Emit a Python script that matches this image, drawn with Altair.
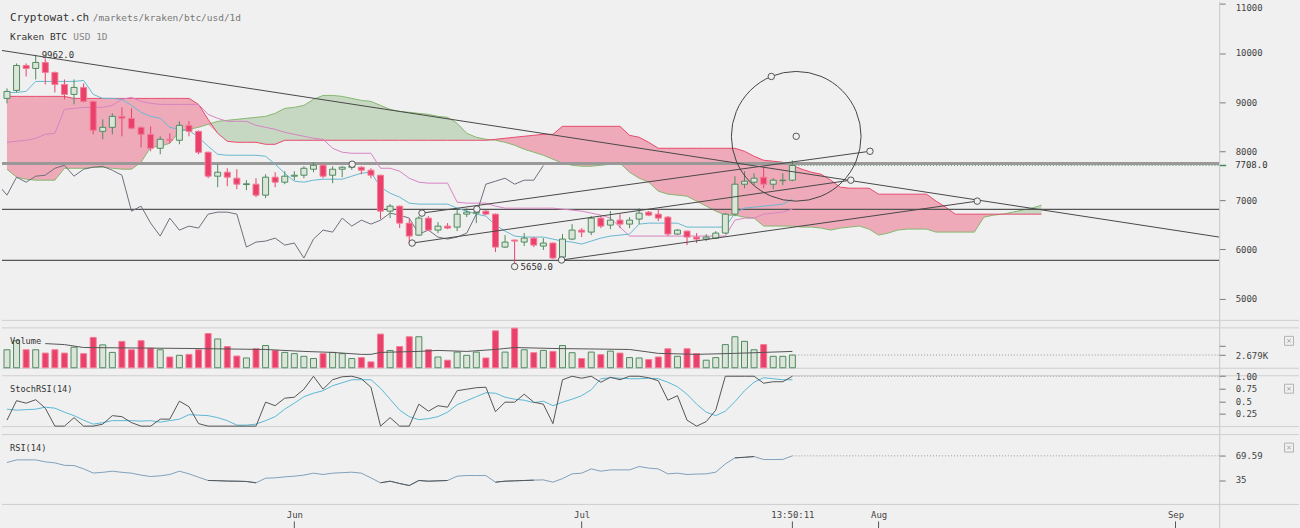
import altair as alt
import numpy as np
import pandas as pd

# ---------------- data (day index: 0 = 1 May 2018) ----------------
days = list(range(1, 84))
opens = [9075, 9238, 9746, 9685, 9807, 9604, 9360, 9157, 9299, 9014,
         8404, 8486, 8709, 8669, 8486, 8343, 8059, 8242, 8222, 8526,
         8404, 7978, 7490, 7571, 7449, 7320, 7327, 7104, 7470, 7368,
         7490, 7510, 7632, 7713, 7510, 7632, 7673, 7673, 7612, 7510,
         6778, 6880, 6534, 6290, 6636, 6392, 6473, 6453, 6717, 6738,
         6778, 6717, 6046, 6189, 6148, 6229, 6067, 6128, 5843, 6209,
         6392, 6351, 6636, 6494, 6595, 6514, 6616, 6758, 6717, 6656,
         6311, 6372, 6250, 6209, 6229, 6331, 6717, 7327, 7368, 7470,
         7327, 7400, 7409]
highs = [9278, 9787, 9787, 9962, 9888, 9620, 9461, 9461, 9380, 9030,
         8648, 8770, 8892, 8872, 8500, 8506, 8303, 8364, 8608, 8608,
         8420, 7990, 7734, 7652, 7632, 7409, 7449, 7530, 7571, 7591,
         7591, 7693, 7774, 7734, 7693, 7693, 7720, 7693, 7652, 7520,
         6921, 6890, 6616, 6677, 6677, 6555, 6534, 6819, 6839, 6839,
         6800, 6730, 6290, 6200, 6331, 6250, 6229, 6140, 6311, 6514,
         6433, 6677, 6677, 6778, 6717, 6656, 6839, 6778, 6819, 6677,
         6412, 6380, 6331, 6311, 6372, 6738, 7490, 7591, 7551, 7673,
         7449, 7551, 7810]
lows = [8974, 9197, 9522, 9461, 9360, 9197, 9055, 8953, 8994, 8343,
        8242, 8343, 8303, 8445, 8079, 7998, 7937, 8161, 8140, 8303,
        7937, 7449, 7266, 7287, 7226, 7205, 7063, 7043, 7266, 7327,
        7409, 7449, 7571, 7449, 7348, 7470, 7620, 7530, 7449, 6616,
        6636, 6433, 6128, 6270, 6372, 6331, 6412, 6372, 6656, 6534,
        6697, 5945, 6026, 5650, 6067, 6046, 5986, 5802, 5802, 6189,
        6250, 6290, 6433, 6412, 6433, 6433, 6514, 6677, 6575, 6270,
        6290, 6087, 6128, 6168, 6209, 6311, 6677, 7246, 7307, 7246,
        7226, 7307, 7388]
closes = [9217, 9746, 9685, 9807, 9604, 9360, 9157, 9299, 9014, 8425,
          8486, 8709, 8669, 8465, 8343, 8059, 8242, 8222, 8526, 8404,
          7978, 7490, 7571, 7470, 7327, 7335, 7104, 7470, 7368, 7490,
          7510, 7652, 7713, 7490, 7632, 7673, 7690, 7612, 7510, 6778,
          6880, 6534, 6270, 6636, 6392, 6473, 6433, 6717, 6758, 6758,
          6717, 6046, 6148, 6168, 6229, 6087, 6128, 5823, 6209, 6392,
          6351, 6636, 6473, 6595, 6514, 6595, 6738, 6697, 6636, 6311,
          6392, 6250, 6209, 6250, 6331, 6717, 7327, 7388, 7449, 7327,
          7409, 7409, 7708]
volumes = [3790, 5700, 3790, 3790, 3090, 3790, 3090, 4330, 2970, 6390,
           4820, 3230, 5560, 3790, 5700, 4120, 3790, 2270, 2620, 2820,
           3790, 7210, 6060, 4470, 2470, 2060, 4000, 4680, 3650, 3230,
           2970, 2410, 1940, 2970, 3230, 2970, 1940, 2140, 1240, 7090,
           3650, 4470, 6530, 6530, 3790, 2270, 1590, 3300, 2620, 3300,
           2060, 7770, 3300, 8320, 3790, 3170, 3650, 3440, 4680, 3170,
           1940, 3300, 2760, 3500, 3090, 2140, 2060, 1730, 2270, 4000,
           2410, 4000, 2970, 1590, 2140, 4880, 6530, 5560, 3790, 4880,
           2410, 2410, 2679]
tenkan = [9197, 9197, 9218, 9421, 9421, 9421, 9421, 9421, 9441, 9157,
          9075, 9075, 9055, 8933, 8791, 8709, 8669, 8486, 8445, 8425,
          8283, 8100, 7937, 7917, 7917, 7917, 7917, 7896, 7734, 7551,
          7388, 7368, 7409, 7429, 7429, 7429, 7490, 7551, 7571, 7266,
          7144, 7063, 6941, 6921, 6921, 6921, 6921, 6839, 6778, 6717,
          6677, 6494, 6372, 6270, 6250, 6250, 6250, 6209, 6168, 6148,
          6107, 6168, 6229, 6270, 6290, 6311, 6514, 6534, 6534, 6534,
          6534, 6453, 6453, 6453, 6453, 6453, 6738, 6839, 6860, 6880,
          6900, 6921, 7022]
kijun = [8181, 8201, 8222, 8262, 8343, 8364, 8852, 8872, 8892, 8892,
         8892, 8933, 9055, 9096, 9014, 8974, 8953, 8953, 8953, 8953,
         8953, 8750, 8669, 8608, 8608, 8608, 8526, 8486, 8445, 8384,
         8343, 8303, 8262, 8242, 8059, 7978, 7957, 7957, 7957, 7652,
         7652, 7591, 7449, 7368, 7348, 7348, 7348, 6961, 6941, 6941,
         6941, 6880, 6839, 6839, 6839, 6839, 6839, 6839, 6819, 6799,
         6778, 6738, 6697, 6636, 6453, 6270, 6270, 6270, 6270, 6270,
         6270, 6270, 6270, 6270, 6270, 6270, 6595, 6636, 6636, 6717,
         6738, 6758, 6819]
cloud_days = list(range(1, 110))
span_a = [7632, 7470, 7429, 7409, 7409, 7409, 7652, 7652, 7652, 7673,
          7673, 7652, 7632, 7632, 7774, 8079, 8100, 8161, 8404, 8445,
          8486, 8547, 8608, 8628, 8648, 8669, 8689, 8709, 8770, 8872,
          8892, 8933, 9055, 9136, 9136, 9116, 9075, 9035, 9014, 8933,
          8852, 8811, 8791, 8770, 8750, 8709, 8689, 8567, 8364, 8283,
          8242, 8222, 8181, 8120, 8039, 7978, 7917, 7835, 7754, 7713,
          7693, 7693, 7713, 7734, 7754, 7571, 7449, 7368, 7185, 7124,
          7104, 7083, 6982, 6880, 6778, 6697, 6697, 6656, 6636, 6474,
          6474, 6474, 6474, 6453, 6453, 6433, 6392, 6433, 6453, 6474,
          6412, 6290, 6331, 6392, 6412, 6412, 6412, 6351, 6351, 6351,
          6351, 6351, 6656, 6697, 6717, 6758, 6799, 6839, 6900]
span_b = ([9116] * 7 + [9075] * 13 + [8953, 8648, 8364, 8201] + [8181] * 3 +
          [8140] * 2 + [8222] * 22 + [8242, 8262, 8283, 8303, 8323, 8343, 8343] +
          [8506] * 7 + [8323, 8283, 8181] + [8059] * 9 +
          [7998, 7896, 7815, 7795, 7774, 7713, 7632, 7571, 7530, 7409, 7266] +
          [7246] * 3 + [7124] * 6 + [6982, 6860] + [6717] * 10)
stoch_k = [0.12, 0.51, 0.46, 0.53, 0.36, 0.0, 0.0, 0.17, 0.0, 0.0,
           0.04, 0.21, 0.19, 0.07, 0.0, 0.0, 0.14, 0.14, 0.50, 0.39,
           0.05, 0.0, 0.0, 0.0, 0.0, 0.0, 0.0, 0.48, 0.41, 0.56,
           0.58, 0.74, 1.0, 0.74, 0.93, 0.99, 1.0, 0.95, 0.78, 0.0,
           0.17, 0.0, 0.0, 0.44, 0.30, 0.41, 0.38, 0.71, 0.74, 0.77,
           0.78, 0.29, 0.48, 0.48, 0.64, 0.48, 0.44, 0.05, 0.93, 1.0,
           0.96, 1.0, 0.88, 0.98, 0.93, 1.0, 1.0, 0.97, 0.91, 0.52,
           0.61, 0.12, 0.0, 0.09, 0.32, 1.0, 1.0, 1.0, 1.0, 0.86,
           0.89, 0.89, 1.0]
stoch_d = [0.34, 0.32, 0.33, 0.34, 0.38, 0.36, 0.28, 0.21, 0.12, 0.04,
           0.07, 0.11, 0.11, 0.11, 0.10, 0.11, 0.08, 0.11, 0.14, 0.23,
           0.22, 0.21, 0.17, 0.11, 0.02, 0.02, 0.04, 0.11, 0.19, 0.34,
           0.46, 0.59, 0.66, 0.71, 0.81, 0.87, 0.93, 0.93, 0.93, 0.76,
           0.54, 0.32, 0.19, 0.13, 0.15, 0.19, 0.28, 0.43, 0.51, 0.59,
           0.67, 0.66, 0.58, 0.54, 0.52, 0.47, 0.50, 0.41, 0.48, 0.54,
           0.61, 0.73, 0.95, 0.97, 0.96, 0.95, 0.95, 0.96, 0.95, 0.88,
           0.79, 0.64, 0.44, 0.28, 0.21, 0.30, 0.49, 0.71, 0.88, 0.97,
           0.95, 0.93, 0.93]
rsi = [60, 63.8, 63.8, 63.8, 61, 59.5, 56, 55.7, 51, 45,
       46, 47.6, 46, 44.8, 42, 40, 41, 42.9, 47.6, 43.8,
       39, 34.3, 34, 33.5, 33.3, 32.9, 31, 37.6, 38.1, 39.5,
       40.5, 42, 44.8, 42.9, 44.8, 45.5, 46.2, 44.8, 38, 31,
       33.3, 30, 27.1, 34.3, 33.3, 33.8, 34.3, 40.5, 41.4, 41.4,
       41.4, 31.9, 33.3, 33.8, 34.3, 34.8, 35.2, 31.9, 37, 43.8,
       44.8, 50.9, 47.6, 49.5, 49.5, 49.5, 54.3, 52, 50.9, 43.8,
       44.8, 42.9, 43.5, 43.8, 46.2, 58, 66.7, 67.5, 68.6, 64.3,
       64.3, 64.5, 69.59]
vol_ma_days = [5, 7, 9, 20, 28, 32, 35, 38, 39, 40, 44, 46, 49, 52, 54, 58, 66, 69, 73, 77, 83]
vol_ma = [5090, 4880, 4260, 4060, 3850, 3440, 3230, 2820, 2820, 3230, 3440,
          3650, 3440, 3850, 4260, 4060, 3850, 3030, 2820, 3030, 3440]

# drawings (day, price)
level_grey = [7748]
levels_dark = [6813, 5776]
trend_d1 = [0.48, 43.3, 44.33, 58.9]
trend_p1 = [10051, 6128, 6738, 5783]
trend_d2 = [127.56, 89.1, 91.1, 102.3]
trend_p2 = [6250, 7409, 7998, 6982]
marker_days = [37.04, 43.3, 44.33, 50.06, 54, 58.9, 80.8, 83.4, 89.1, 91.1, 102.3]
marker_prices = [7734, 6128, 6738, 6819, 5650, 5783, 9522, 8303, 7409, 7998, 6982]
circle_center = (83.4, 8303)
extreme_days = [4, 54]
extreme_prices = [9962, 5650]
extreme_labels = ["9962.0", "5650.0"]
last_price, last_price_label = 7708, "7708.0"
last_vol_label = "2.679K"
last_rsi_label = "69.59"

price_ticks = [5000, 6000, 7000, 8000, 9000, 10000, 11000]
month_days = [31, 61, 92, 123]
month_names = ["Jun", "Jul", "Aug", "Sep"]
now_day, now_label = 83, "13:50:11"

# ---------------- styling ----------------
W = 1220
FONT = "DejaVu Sans Mono"
BG = "#f0f0f0"
RED = "#ea416b"
RED_EDGE = "#f27c98"
GREEN_EDGE = "#4f8b5e"
GREEN_FILL = "#dbe5da"
H_PRICE, H_VOL, H_STO, H_RSI, SP = 319, 40, 51, 70, 8

# ---------------- frames ----------------
cd = pd.DataFrame(dict(d=days, open=opens, high=highs, low=lows, close=closes,
                       vol=volumes, tenkan=tenkan, kijun=kijun, k=stoch_k,
                       dline=stoch_d, rsi=rsi))
cloud = pd.DataFrame(dict(d=cloud_days, a=span_a, b=span_b))
cloud["lo"] = np.minimum(cloud["a"], cloud["b"])
chikou = pd.DataFrame(dict(d=np.array(days) - 26, p=closes))
trends = pd.DataFrame(dict(d1=trend_d1, p1=trend_p1, d2=trend_d2, p2=trend_p2))
markers = pd.DataFrame(dict(d=marker_days, p=marker_prices))
circ = pd.DataFrame(dict(d=[circle_center[0]], p=[circle_center[1]]))
extremes = pd.DataFrame(dict(d=extreme_days, p=extreme_prices, label=extreme_labels))
grey_df = pd.DataFrame(dict(p=level_grey))
dark_df = pd.DataFrame(dict(p=levels_dark))
last_df = pd.DataFrame(dict(d=[now_day], p=[last_price], label=[last_price_label],
                            v=[volumes[-1]], k=[stoch_k[-1]], r=[rsi[-1]]))
vma = pd.DataFrame(dict(d=vol_ma_days, v=vol_ma))
rsi_df = pd.DataFrame(dict(d=days, rsi=rsi))
dark = (rsi_df["rsi"] < 35) | (rsi_df["rsi"] > 65)
runs = (dark != dark.shift()).cumsum()
rsi_dark = rsi_df[dark].assign(run=runs[dark])
ticks_df = pd.DataFrame(dict(d=month_days + [now_day]))
dummy = pd.DataFrame(dict(z=[0]))

xs = alt.Scale(domain=[0.48, 127.56], nice=False, zero=False, padding=0)


def X(field="d", axis=None):
    return alt.X(f"{field}:Q", scale=xs, axis=axis)


up = "datum.close >= datum.open"

# ---------------- price panel ----------------
ps = alt.Scale(domain=[4563, 11047], nice=False, zero=False, padding=0)
paxis = alt.Axis(orient="right", values=price_ticks, format="d", tickSize=6,
                 tickColor="#777", labelPadding=10, domain=False, grid=False,
                 title=None, labelFlush=3)


def PY(field):
    return alt.Y(f"{field}:Q", scale=ps, axis=paxis)


def txt(x, y, s, size=9, color="#333"):
    return alt.Chart(dummy).mark_text(text=s, align="left", baseline="middle",
                                      fontSize=size, color=color, font=FONT).encode(
        x=alt.value(x), y=alt.value(y))


def hrule(y, color="#cfcfcf", x0=0, x1=1300):
    return alt.Chart(dummy).mark_rule(color=color, strokeWidth=1).encode(
        x=alt.value(x0), x2=alt.value(x1), y=alt.value(y))


def xbox(y):
    box = alt.Chart(dummy).mark_point(shape="square", size=81, filled=False,
                                      color="#999", strokeWidth=1).encode(
        x=alt.value(1290), y=alt.value(y))
    cross = alt.Chart(dummy).mark_point(shape="M-1,-1L1,1M-1,1L1,-1", size=12,
                                        filled=False, color="#888",
                                        strokeWidth=1).encode(
        x=alt.value(1290), y=alt.value(y))
    return [box, cross]


cc = alt.Chart(cloud)
price_layers = [
    cc.mark_area(color="#c6d8c2").encode(x=X(), y=PY("a"), y2="lo"),
    cc.mark_area(color="#eeaab8").encode(x=X(), y=PY("b"), y2="lo"),
    cc.mark_line(color="#86b86f", strokeWidth=1).encode(x=X(), y=PY("a")),
    cc.mark_line(color="#e84a6e", strokeWidth=1).encode(x=X(), y=PY("b")),
    alt.Chart(grey_df).mark_rule(color="#999999", strokeWidth=3).encode(
        y=PY("p"), x=alt.value(0), x2=alt.value(W)),
    alt.Chart(dark_df).mark_rule(color="#555555", strokeWidth=1.3).encode(
        y=PY("p"), x=alt.value(0), x2=alt.value(W)),
    alt.Chart(cd).mark_line(color="#d883c3", strokeWidth=1).encode(x=X(), y=PY("kijun")),
    alt.Chart(cd).mark_line(color="#67b8d0", strokeWidth=1).encode(x=X(), y=PY("tenkan")),
    alt.Chart(chikou).mark_line(color="#6e6e7c", strokeWidth=1, clip=True).encode(
        x=X(), y=PY("p")),
    alt.Chart(cd).mark_rule(strokeWidth=1).encode(
        x=X(), y=PY("low"), y2="high",
        color=alt.condition(up, alt.value(GREEN_EDGE), alt.value(RED))),
    alt.Chart(cd).mark_bar(size=6, strokeWidth=1).encode(
        x=X(), y=PY("open"), y2="close",
        fill=alt.condition(up, alt.value(GREEN_FILL), alt.value(RED)),
        stroke=alt.condition(up, alt.value(GREEN_EDGE), alt.value(RED_EDGE))),
    alt.Chart(trends).mark_rule(color="#484848", strokeWidth=1).encode(
        x=X("d1"), x2="d2", y=PY("p1"), y2="p2"),
    alt.Chart(circ).mark_point(shape="circle", size=16900, filled=False,
                               color="#444444", strokeWidth=1, opacity=1).encode(
        x=X(), y=PY("p")),
    alt.Chart(markers).mark_point(shape="circle", size=42, fill=BG, stroke="#555555",
                                  strokeWidth=1, opacity=1, fillOpacity=1).encode(
        x=X(), y=PY("p")),
    alt.Chart(last_df).mark_rule(color="#5f9e6e", strokeDash=[1, 2], strokeWidth=1).encode(
        x=X(), x2=alt.value(W), y=PY("p")),
    alt.Chart(extremes).mark_text(align="left", baseline="middle", dx=6, fontSize=9,
                                  color="#333", font=FONT).encode(
        x=X(), y=PY("p"), text="label:N"),
    alt.Chart(last_df).mark_text(align="left", baseline="middle", fontSize=9,
                                 color="#333", font=FONT).encode(
        x=alt.value(1236), y=PY("p"), text="label:N"),
    alt.Chart(last_df).mark_rule(color="#3f8a55", strokeWidth=1.5).encode(
        x=alt.value(W), x2=alt.value(W + 7), y=PY("p")),
    txt(8, 16, "Cryptowat.ch", 11, "#333"),
    txt(91, 16.5, "/markets/kraken/btc/usd/1d", 9.5, "#777"),
    txt(8, 35, "Kraken BTC", 9.5, "#333"),
    txt(71.5, 35, "USD 1D", 9.5, "#888"),
    alt.Chart(dummy).mark_rule(color="#c8c8c8", strokeWidth=1).encode(
        x=alt.value(W + 0.5), y=alt.value(0), y2=alt.value(528)),
]
for yy in [319.5, 327, 367.5, 375, 426, 434, 504]:
    price_layers.append(hrule(yy))
price = alt.layer(*price_layers).properties(width=W, height=H_PRICE)

# ---------------- volume panel ----------------
vs = alt.Scale(domain=[0, 8400], nice=False, padding=0)
vaxis = alt.Axis(orient="right", values=[4650, volumes[-1]], tickSize=6, tickColor="#777",
                 labelPadding=10, domain=False, grid=False, title=None,
                 labelExpr=f"datum.value == {volumes[-1]} ? '{last_vol_label}' : ''")


def VY(field):
    return alt.Y(f"{field}:Q", scale=vs, axis=vaxis)


vol_layers = [
    alt.Chart(cd).mark_bar(size=6, strokeWidth=1).encode(
        x=X(), y=VY("vol"),
        fill=alt.condition(up, alt.value(GREEN_FILL), alt.value(RED)),
        stroke=alt.condition(up, alt.value(GREEN_EDGE), alt.value(RED_EDGE))),
    alt.Chart(vma).mark_line(color="#555555", strokeWidth=1).encode(x=X(), y=VY("v")),
    alt.Chart(last_df).mark_rule(color="#999999", strokeDash=[1, 2]).encode(
        x=X(), x2=alt.value(W), y=VY("v")),
    txt(8, 13, "Volume", 8.7, "#333"),
] + xbox(13)
vol = alt.layer(*vol_layers).properties(width=W, height=H_VOL)

# ---------------- stoch rsi panel ----------------
ss = alt.Scale(domain=[-0.01, 1.01], nice=False, zero=False, padding=0)
saxis = alt.Axis(orient="right", values=[0.25, 0.5, 0.75, 1.0], tickSize=6,
                 tickColor="#777", labelPadding=10, domain=False, grid=False, title=None,
                 labelExpr="datum.value == 1 ? '1.00' : datum.value == 0.5 ? '0.5' : "
                           "datum.value == 0.25 ? '0.25' : '0.75'")


def SY(field):
    return alt.Y(f"{field}:Q", scale=ss, axis=saxis)


sto_layers = [
    alt.Chart(cd).mark_line(color="#5bb8d6", strokeWidth=1).encode(x=X(), y=SY("dline")),
    alt.Chart(cd).mark_line(color="#555555", strokeWidth=1).encode(x=X(), y=SY("k")),
    alt.Chart(last_df).mark_rule(color="#999999", strokeDash=[1, 2]).encode(
        x=X(), x2=alt.value(W), y=SY("k")),
    txt(8, 13.5, "StochRSI(14)", 8.7, "#333"),
] + xbox(13)
sto = alt.layer(*sto_layers).properties(width=W, height=H_STO)

# ---------------- rsi panel ----------------
rs = alt.Scale(domain=[0, 100], nice=False, padding=0)
raxis = alt.Axis(orient="right", values=[35, rsi[-1]], tickSize=6, tickColor="#777",
                 labelPadding=10, domain=False, grid=False, title=None,
                 labelExpr=f"datum.value == 35 ? '35' : '{last_rsi_label}'")
expr = "".join(f"datum.value == {d} ? '{n}' : " for d, n in zip(month_days, month_names))
expr += f"datum.value == {now_day} ? '{now_label}' : ''"
xaxis = alt.Axis(values=month_days + [now_day], labelExpr=expr, ticks=False, domain=False,
                 grid=False, title=None, labelPadding=6, labelFlush=False,
                 labelOverlap=False, labelColor="#444", labelFontSize=9)


def RY(field):
    return alt.Y(f"{field}:Q", scale=rs, axis=raxis)


rsi_layers = [
    alt.Chart(rsi_df).mark_line(color="#80a0bb", strokeWidth=1).encode(
        x=X(axis=xaxis), y=RY("rsi")),
    alt.Chart(rsi_dark).mark_line(color="#555555", strokeWidth=1).encode(
        x=X(axis=xaxis), y=RY("rsi"), detail="run:N"),
    alt.Chart(last_df).mark_rule(color="#999999", strokeDash=[1, 2]).encode(
        x=X(axis=xaxis), x2=alt.value(W), y=RY("r")),
    alt.Chart(ticks_df).mark_rule(color="#555555", strokeWidth=1).encode(
        x=X(axis=xaxis), y=alt.value(87), y2=alt.value(94)),
    txt(8, 13, "RSI(14)", 8.7, "#333"),
] + xbox(13)
rsip = alt.layer(*rsi_layers).properties(width=W, height=H_RSI)

chart = alt.vconcat(price, vol, sto, rsip, spacing=SP, bounds="flush").properties(
    background=BG, padding=0
).configure_view(stroke=None).configure_axis(
    labelFont=FONT, labelFontSize=9, labelColor="#444"
).configure_text(font=FONT)

chart.save("out.html", embed_options={"renderer": "svg", "actions": False})
